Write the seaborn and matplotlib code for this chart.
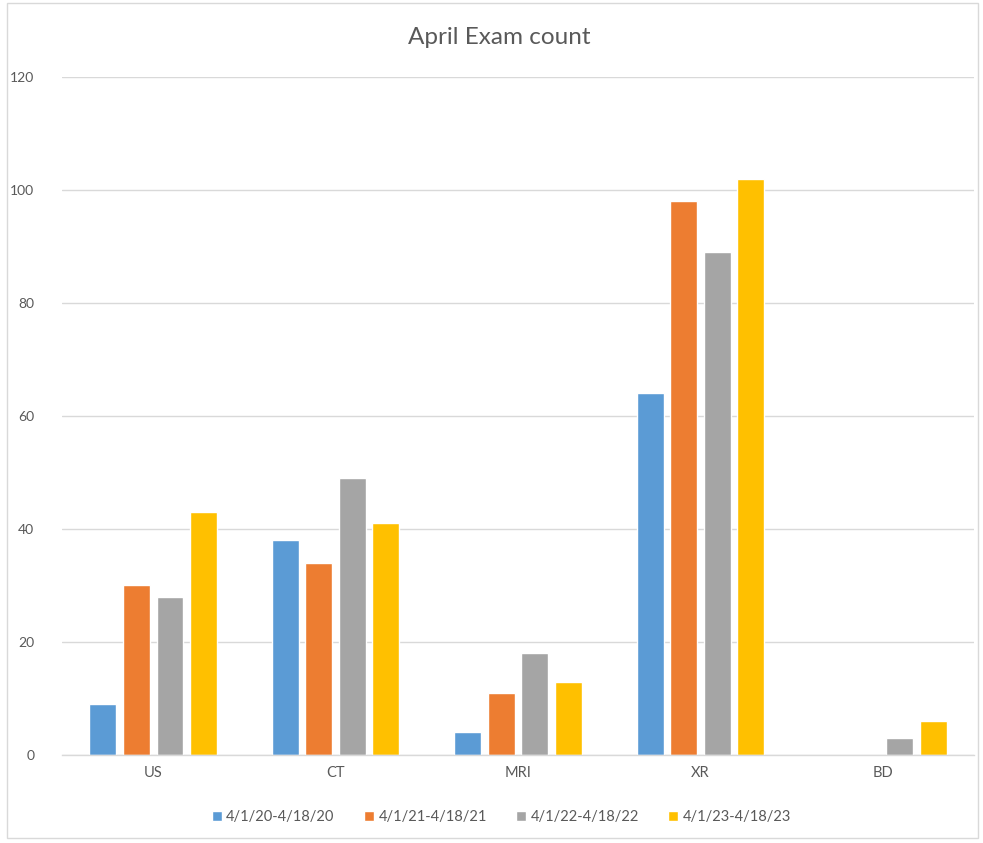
import matplotlib
matplotlib.use("Agg")
import matplotlib.pyplot as plt
import seaborn as sns
import pandas as pd
from matplotlib.patches import Rectangle

categories = ["US", "CT", "MRI", "XR", "BD"]
series_names = ["4/1/20-4/18/20", "4/1/21-4/18/21", "4/1/22-4/18/22", "4/1/23-4/18/23"]
s2020 = [9, 38, 4, 64, 0]
s2021 = [30, 34, 11, 98, 0]
s2022 = [28, 49, 18, 89, 3]
s2023 = [43, 41, 13, 102, 6]
colors = ["#5B9BD5", "#ED7D31", "#A5A5A5", "#FFC000"]
yticks = [0, 20, 40, 60, 80, 100, 120]

rows = []
for name, vals in zip(series_names, [s2020, s2021, s2022, s2023]):
    for c, v in zip(categories, vals):
        rows.append({"Category": c, "Period": name, "Count": v})
df = pd.DataFrame(rows)

sns.set_theme(style="white")
plt.rcParams["font.family"] = ["Lato", "DejaVu Sans"]

fig = plt.figure(figsize=(9.83, 8.43), dpi=100)
ax = fig.add_axes([0.063, 0.1044, 0.928, 0.8043])

sns.barplot(data=df, x="Category", y="Count", hue="Period", order=categories,
            hue_order=series_names, palette=colors, width=0.735, gap=0.2,
            saturation=1, ax=ax, legend=True)

ax.set_ylim(0, 120)
ax.set_xlim(-0.5, 4.5)
ax.set_yticks(yticks)
ax.set_yticklabels([str(t) for t in yticks], color="#595959", fontsize=10)
ax.tick_params(axis="x", colors="#595959", labelsize=10.5, length=0, pad=8)
ax.tick_params(axis="y", length=0, pad=20)
ax.set_xlabel("")
ax.set_ylabel("")
ax.grid(axis="y", color="#D9D9D9", linewidth=1)
ax.set_axisbelow(True)
for s in ["left", "right", "top"]:
    ax.spines[s].set_visible(False)
ax.spines["bottom"].set_color("#D9D9D9")
ax.spines["bottom"].set_linewidth(1)

handles, labels = ax.get_legend_handles_labels()
ax.get_legend().remove()
fig.legend(handles, labels, loc="center", bbox_to_anchor=(0.51, 0.031), ncol=4,
           frameon=False, fontsize=10.5, labelcolor="#595959", handlelength=0.7,
           handleheight=0.7, handletextpad=0.3, columnspacing=2.0)

fig.text(0.508, 0.955, "April Exam count", ha="center", va="center",
         fontsize=17.5, color="#595959")

fig.patches.append(Rectangle((0.007, 0.006), 0.988, 0.99, transform=fig.transFigure,
                             fill=False, edgecolor="#D9D9D9", linewidth=1))

fig.savefig("out.png", dpi=100)
